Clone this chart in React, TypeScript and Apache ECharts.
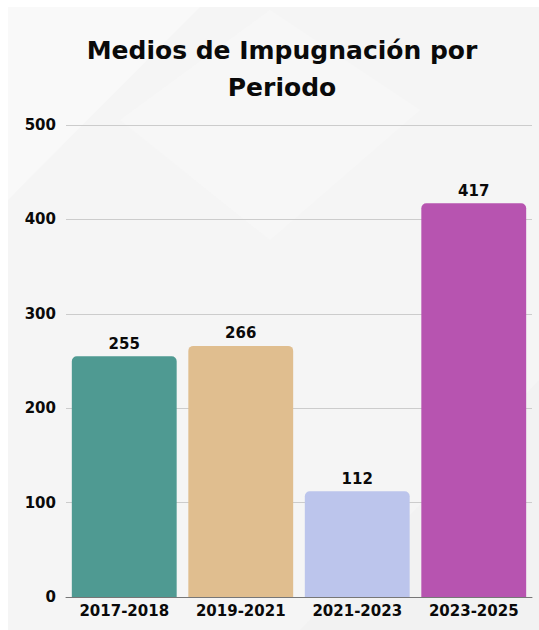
import React, { useEffect, useRef } from "react";
import * as echarts from "echarts";

const categories = ["2017-2018", "2019-2021", "2021-2023", "2023-2025"];
const values = [255, 266, 112, 417];
const barColors = ["#4f9a92", "#e0be8f", "#bcc5ec", "#b754b0"];
const yTicks = [0, 100, 200, 300, 400, 500];
const titleText = "Medios de Impugnación por\nPeriodo";

const FONT = "DejaVu Sans";

export default function App() {
  const ref = useRef<HTMLDivElement>(null);
  useEffect(() => {
    if (!ref.current) return;
    const chart = echarts.init(ref.current, null, { renderer: "svg" });
    chart.setOption({
      animation: false,
      backgroundColor: "#ffffff",
      textStyle: { fontFamily: FONT },
      graphic: [
        {
          type: "rect",
          z: -20,
          silent: true,
          shape: { x: 8, y: 7, width: 531, height: 623 },
          style: { fill: "#f5f5f5" },
        },
        {
          type: "polygon",
          z: -19,
          silent: true,
          shape: { points: [[8, 7], [200, 7], [8, 200]] },
          style: { fill: "#f9f9f9" },
        },
        {
          type: "polygon",
          z: -19,
          silent: true,
          shape: { points: [[120, 120], [270, 240], [420, 110], [270, 10]] },
          style: { fill: "#f7f7f7" },
        },
        {
          type: "polygon",
          z: -19,
          silent: true,
          shape: { points: [[300, 630], [539, 380], [539, 630]] },
          style: { fill: "#f2f2f2" },
        },
      ],
      title: {
        text: titleText,
        left: 277,
        top: 27,
        textAlign: "center",
        textStyle: {
          fontFamily: FONT,
          fontSize: 25,
          fontWeight: "bold",
          color: "#0a0a0a",
          lineHeight: 37,
        },
      },
      grid: { left: 66, right: 7, top: 125, bottom: 33 },
      xAxis: {
        type: "category",
        data: categories,
        axisTick: { show: false },
        axisLine: { lineStyle: { color: "#777777", width: 1 } },
        axisLabel: {
          interval: 0,
          hideOverlap: false,
          color: "#0a0a0a",
          fontFamily: FONT,
          fontWeight: "bold",
          fontSize: 15,
          margin: 6,
        },
      },
      yAxis: {
        type: "value",
        min: 0,
        max: 500,
        interval: 100,
        axisLine: { show: false },
        axisTick: { show: false },
        splitLine: { lineStyle: { color: "#cccccc", width: 1 } },
        axisLabel: {
          color: "#0a0a0a",
          fontFamily: FONT,
          fontWeight: "bold",
          fontSize: 15,
          margin: 10,
          formatter: (v: number) => (yTicks.includes(v) ? String(v) : ""),
        },
      },
      series: [
        {
          type: "bar",
          barCategoryGap: "10%",
          data: values.map((v, i) => ({
            value: v,
            itemStyle: { color: barColors[i], borderRadius: [5, 5, 0, 0] },
          })),
          label: {
            show: true,
            position: "top",
            distance: 5,
            color: "#0a0a0a",
            fontFamily: FONT,
            fontWeight: "bold",
            fontSize: 15,
          },
        },
      ],
    });
    return () => chart.dispose();
  }, []);
  return (
    <div
      ref={ref}
      style={{ position: "absolute", left: 0, top: 0, width: 539, height: 630 }}
    />
  );
}
